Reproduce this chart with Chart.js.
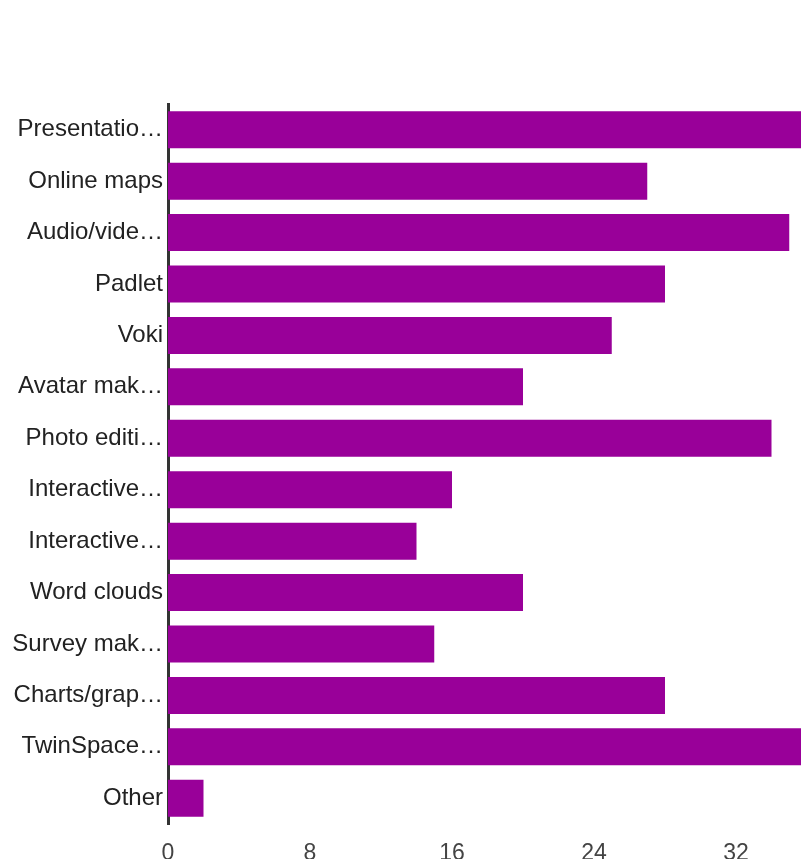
<!DOCTYPE html>
<html>
<head>
<meta charset="utf-8">
<script src="https://cdn.jsdelivr.net/npm/chart.js@4/dist/chart.umd.min.js"></script>
<style>
  html, body { margin: 0; padding: 0; background: #fff; overflow: hidden; }
  /* the original chart is wider than the window, its right side is cut off */
  #wrap { position: relative; width: 900px; height: 859px; }
</style>
</head>
<body>
<div id="wrap"><canvas id="barChart"></canvas></div>
<script>
// Data
const categories = [
    'Presentatio\u2026', 'Online maps', 'Audio/vide\u2026', 'Padlet', 'Voki',
    'Avatar mak\u2026', 'Photo editi\u2026', 'Interactive\u2026', 'Interactive\u2026',
    'Word clouds', 'Survey mak\u2026', 'Charts/grap\u2026', 'TwinSpace\u2026', 'Other'
];
const responses = [36, 27, 35, 28, 25, 20, 34, 16, 14, 20, 15, 28, 36, 2];
const xTicks = [0, 8, 16, 24, 32, 40];

const barColor = '#990099';
const textColor = '#222222';
const axisColor = '#333333';

document.addEventListener('DOMContentLoaded', function() {
    const ctx = document.getElementById('barChart');

    new Chart(ctx, {
        type: 'bar',
        data: {
            labels: categories,
            datasets: [{
                data: responses,
                backgroundColor: barColor,
                borderWidth: 0,
                barPercentage: 0.72,
                categoryPercentage: 1
            }]
        },
        options: {
            indexAxis: 'y',
            responsive: true,
            maintainAspectRatio: false,
            animation: false,
            layout: {
                padding: { top: 104, right: 22, bottom: 0, left: 0 }
            },
            plugins: {
                legend: { display: false },
                tooltip: { enabled: false }
            },
            scales: {
                x: {
                    min: xTicks[0],
                    max: xTicks[xTicks.length - 1],
                    afterBuildTicks: function(scale) {
                        scale.ticks = xTicks.map(v => ({ value: v }));
                    },
                    afterFit: function(scale) { scale.height = 35; },
                    grid: { display: false },
                    border: { display: false },
                    ticks: {
                        color: '#444444',
                        padding: 8,
                        font: { family: '"Liberation Sans", Arial, sans-serif', size: 23 }
                    }
                },
                y: {
                    afterFit: function(scale) { scale.width = 168; },
                    grid: { drawOnChartArea: false, drawTicks: false },
                    border: { display: true, color: axisColor, width: 3 },
                    ticks: {
                        color: textColor,
                        padding: 5,
                        font: { family: '"Liberation Sans", Arial, sans-serif', size: 24 }
                    }
                }
            }
        }
    });
});
</script>
</body>
</html>
